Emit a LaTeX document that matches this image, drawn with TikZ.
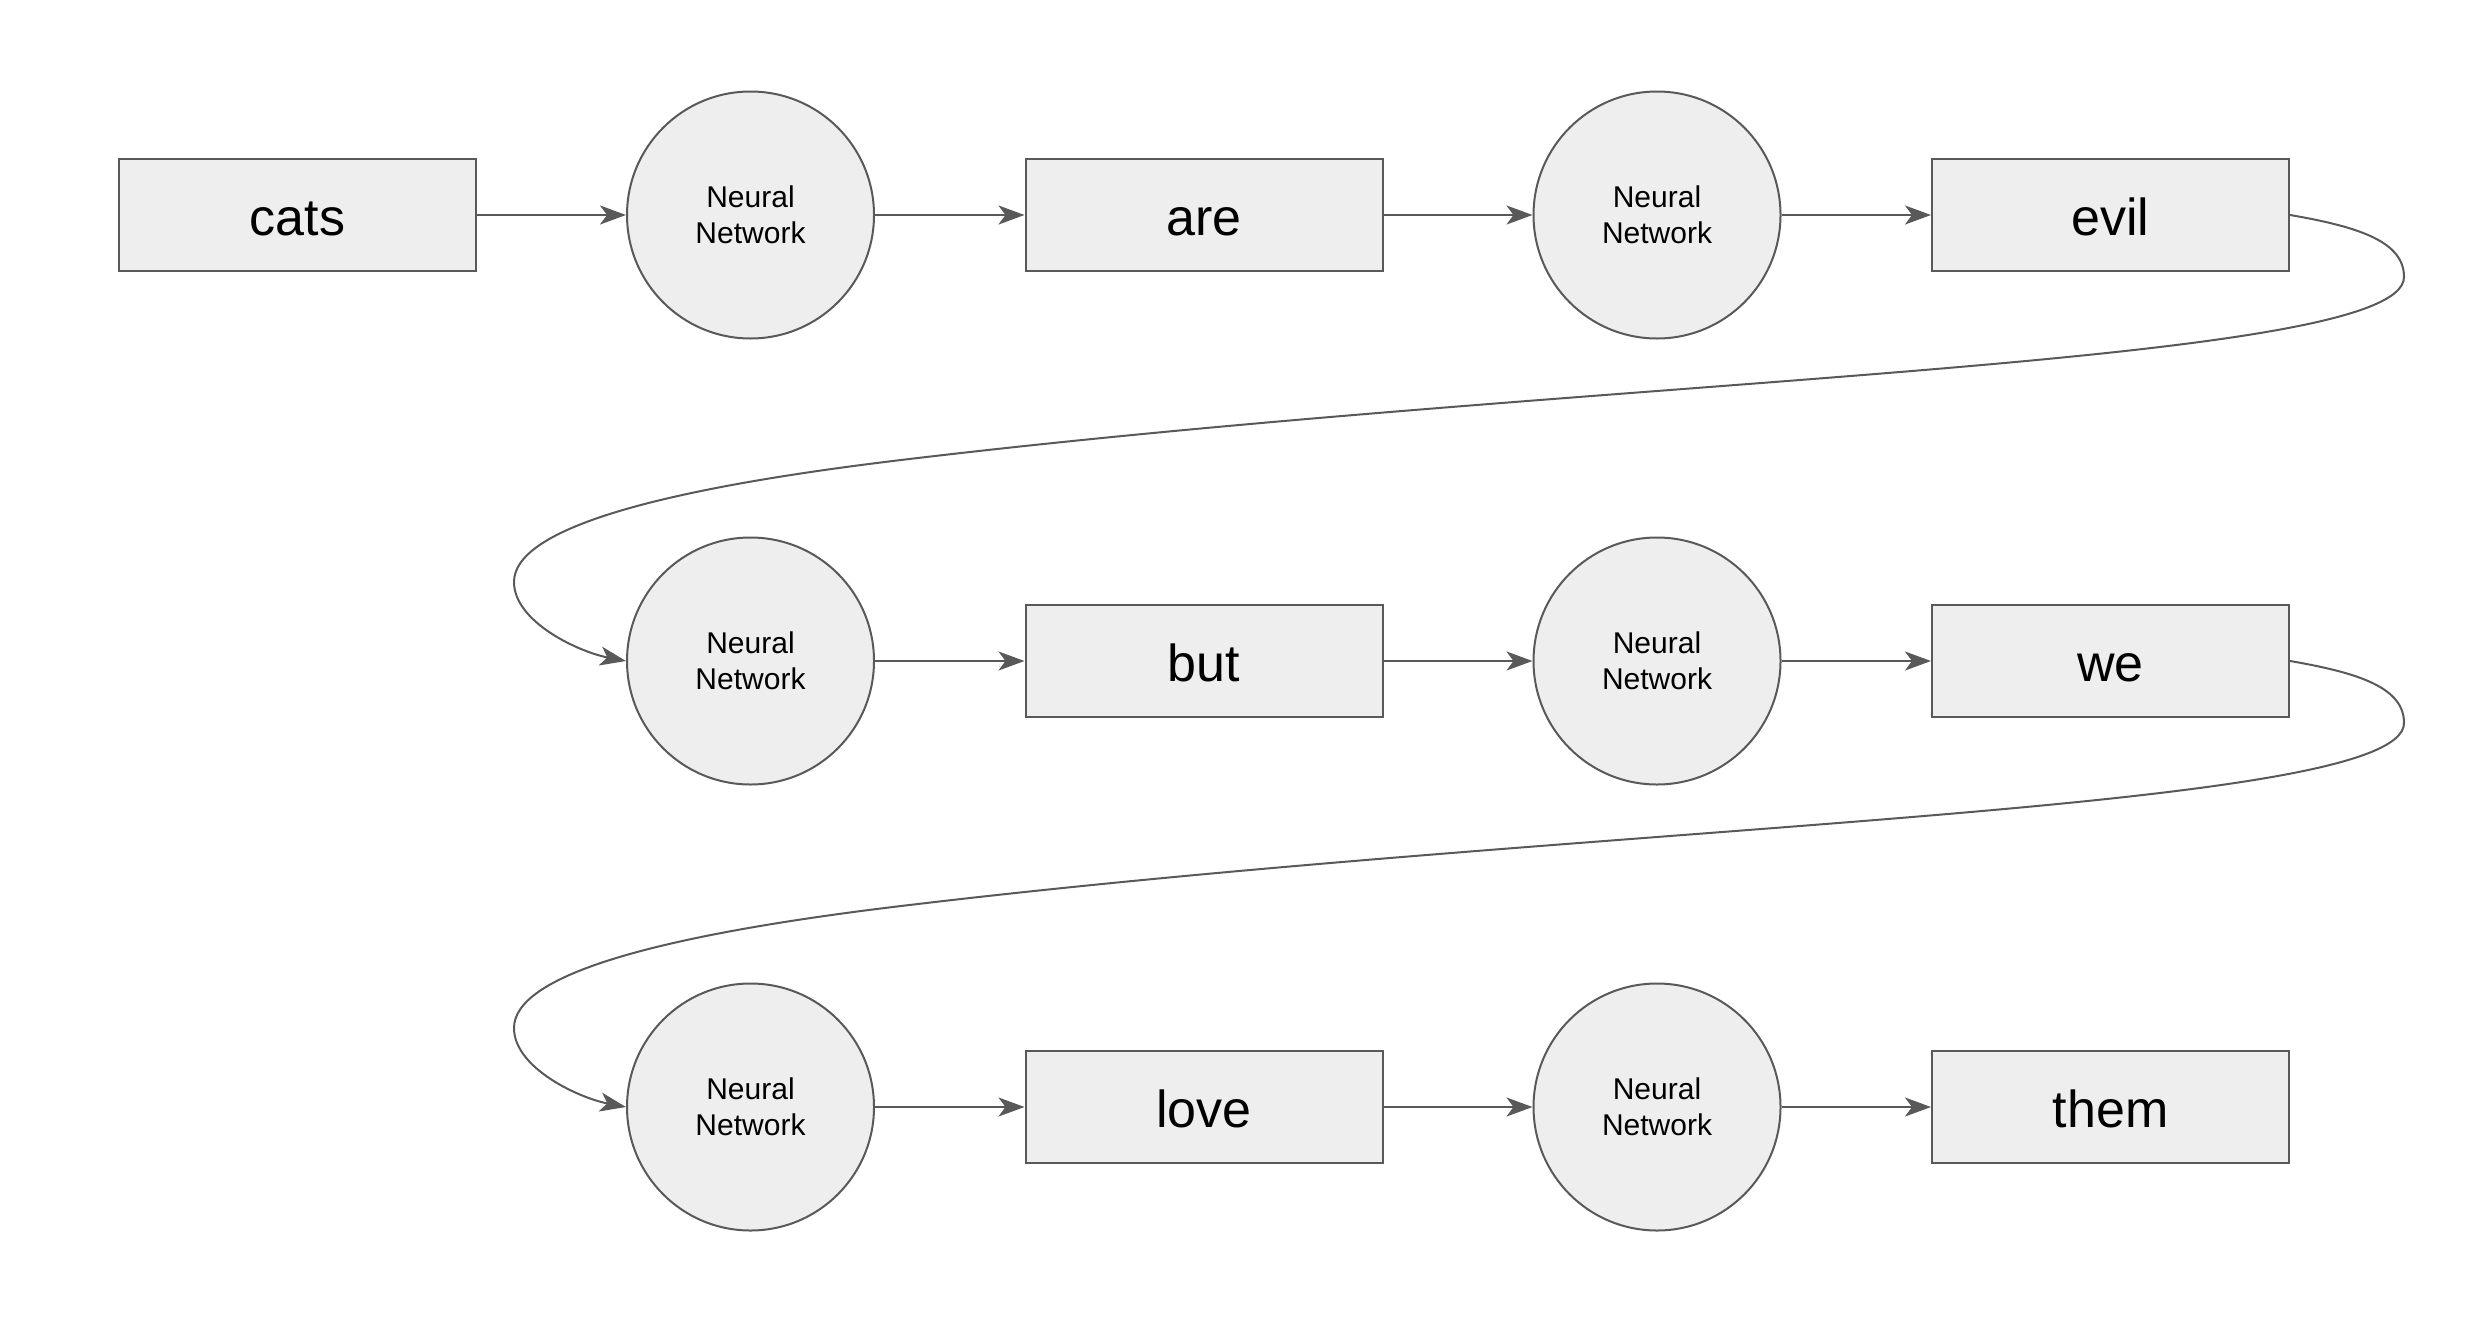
\documentclass[tikz,border=0pt]{standalone}
\usepackage{fontspec}
\setmainfont{Liberation Sans}
\usetikzlibrary{arrows.meta}
\definecolor{edgecol}{HTML}{595959}
\definecolor{boxfill}{HTML}{EEEEEE}
\begin{document}
\begin{tikzpicture}[x=1pt,y=-1pt,
  wordbox/.style={draw=edgecol, fill=boxfill, line width=2pt, minimum width=357pt, minimum height=112pt, inner sep=0pt, font=\fontsize{52pt}{62pt}\selectfont, text height=41pt, text depth=0pt},
  nnode/.style={circle, draw=edgecol, fill=boxfill, line width=2pt, minimum size=247pt, inner sep=0pt, align=center, font=\fontsize{30pt}{36pt}\selectfont},
  conn/.style={draw=edgecol, line width=2pt, -{Stealth[length=26pt,width=19pt,inset=7pt]}}]
\useasboundingbox (0,0) rectangle (2486,1336);
% row 1
\node[wordbox] (cats) at (297.5,215) {cats};
\node[nnode] (nn1) at (750.5,215) {Neural\\Network};
\node[wordbox] (are) at (1204,215) {are};
\node[nnode] (nn2) at (1657,215) {Neural\\Network};
\node[wordbox] (evil) at (2110.5,215) {evil};
% row 2
\node[nnode] (nn3) at (750.5,661) {Neural\\Network};
\node[wordbox] (but) at (1204,661) {but};
\node[nnode] (nn4) at (1657,661) {Neural\\Network};
\node[wordbox] (we) at (2110.5,661) {we};
% row 3
\node[nnode] (nn5) at (750.5,1107) {Neural\\Network};
\node[wordbox] (love) at (1204,1107) {love};
\node[nnode] (nn6) at (1657,1107) {Neural\\Network};
\node[wordbox] (them) at (2110.5,1107) {them};
% straight connectors
\draw[conn] (cats.east) -- (nn1.west);
\draw[conn] (nn1.east) -- (are.west);
\draw[conn] (are.east) -- (nn2.west);
\draw[conn] (nn2.east) -- (evil.west);
\draw[conn] (nn3.east) -- (but.west);
\draw[conn] (but.east) -- (nn4.west);
\draw[conn] (nn4.east) -- (we.west);
\draw[conn] (nn5.east) -- (love.west);
\draw[conn] (love.east) -- (nn6.west);
\draw[conn] (nn6.east) -- (them.west);
% curved connectors
\draw[conn] (evil.east) .. controls +(70,12) and +(0,-35) .. ++(114,62)
  .. controls +(0,90) and +(700,-84) .. ++(-1503,183)
  .. controls +(-250,30) and +(0,-52) .. ++(-387,122)
  .. controls +(0,40) and +(-47,-9) .. (nn3.west);
\draw[conn] (we.east) .. controls +(70,12) and +(0,-35) .. ++(114,62)
  .. controls +(0,90) and +(700,-84) .. ++(-1503,183)
  .. controls +(-250,30) and +(0,-52) .. ++(-387,122)
  .. controls +(0,40) and +(-47,-9) .. (nn5.west);
\end{tikzpicture}
\end{document}
